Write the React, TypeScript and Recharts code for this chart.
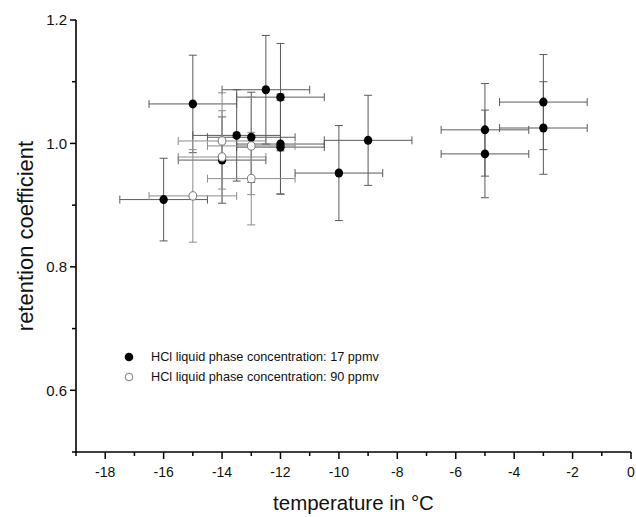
import React from "react";
import { ScatterChart, Scatter, XAxis, YAxis, ErrorBar, Label, Legend } from "recharts";

// HCl liquid phase concentration 17 ppmv (filled)
const lowTemp = [-16, -15, -14, -13.5, -13, -12.5, -12, -12, -12, -10, -9, -5, -5, -3, -3];
const lowCoef = [0.909, 1.064, 0.973, 1.013, 1.01, 1.087, 1.075, 0.999, 0.994, 0.952, 1.005, 1.022, 0.983, 1.067, 1.025];
const lowCoefErr = [0.067, 0.079, 0.07, 0.074, 0.073, 0.088, 0.087, 0.081, 0.076, 0.077, 0.073, 0.075, 0.071, 0.077, 0.075];
const lowTempErr = [1.5, 1.5, 1.5, 1.5, 1.5, 1.5, 1.5, 1.5, 1.5, 1.5, 1.5, 1.5, 1.5, 1.5, 1.5];

// HCl liquid phase concentration 90 ppmv (open)
const highTemp = [-15, -14, -14, -13, -13];
const highCoef = [0.915, 1.004, 0.978, 0.996, 0.943];
const highCoefErr = [0.075, 0.078, 0.075, 0.079, 0.075];
const highTempErr = [1.5, 1.5, 1.5, 1.5, 1.5];

const xTicks = [-19, -18, -17, -16, -15, -14, -13, -12, -11, -10, -9, -8, -7, -6, -5, -4, -3, -2, -1, 0];
const xLabeled = [-18, -16, -14, -12, -10, -8, -6, -4, -2, 0];
const yTicks = [0.5, 0.6, 0.7, 0.8, 0.9, 1.0, 1.1, 1.2];
const yLabeled = [0.6, 0.8, 1.0, 1.2];

const seriesNames = [
  "HCl liquid phase concentration: 17 ppmv",
  "HCl liquid phase concentration: 90 ppmv",
];

const FONT = "'Liberation Sans', Arial, sans-serif";

const lowData = lowTemp.map((x, i) => ({ x, y: lowCoef[i], errX: lowTempErr[i], errY: lowCoefErr[i] }));
const highData = highTemp.map((x, i) => ({ x, y: highCoef[i], errX: highTempErr[i], errY: highCoefErr[i] }));

const XTick = (props: any) => {
  const { x, y, payload } = props;
  const major = xLabeled.includes(payload.value);
  return (
    <g>
      <line x1={x} x2={x} y1={y} y2={y + (major ? 7 : 4)} stroke="#000" strokeWidth={1.5} />
      {major && (
        <text x={x} y={y + 25} textAnchor="middle" fontSize={14} fontFamily={FONT} fill="#111">
          {payload.value}
        </text>
      )}
    </g>
  );
};

const YTick = (props: any) => {
  const { x, y, payload } = props;
  const major = yLabeled.some((v) => Math.abs(v - payload.value) < 1e-6);
  return (
    <g>
      <line x1={x - (major ? 6 : 4)} x2={x} y1={y} y2={y} stroke="#000" strokeWidth={1.5} />
      {major && (
        <text x={x - 9} y={y + 5.3} textAnchor="end" fontSize={15} fontFamily={FONT} fill="#111">
          {payload.value.toFixed(1)}
        </text>
      )}
    </g>
  );
};

const FilledDot = (p: any) => <ellipse cx={p.cx} cy={p.cy} rx={4.2} ry={4.5} fill="#000" />;
const OpenDot = (p: any) => (
  <ellipse cx={p.cx} cy={p.cy} rx={3.8} ry={4.2} fill="#fff" stroke="#777" strokeWidth={1} />
);

const LegendBox = () => (
  <div style={{ fontFamily: FONT, fontSize: 12.7, color: "#111" }}>
    {seriesNames.map((name, i) => (
      <div key={name} style={{ display: "flex", alignItems: "center", height: 20 }}>
        <svg width={12} height={12} style={{ marginRight: 16 }}>
          {i === 0 ? (
            <circle cx={6} cy={6} r={4.3} fill="#000" />
          ) : (
            <circle cx={6} cy={6} r={3.8} fill="#fff" stroke="#777" />
          )}
        </svg>
        <span>{name}</span>
      </div>
    ))}
  </div>
);

export default function App() {
  return (
    <div style={{ position: "absolute", left: 0, top: 0, width: 636, height: 517, background: "#fff" }}>
      <ScatterChart width={636} height={517} margin={{ top: 20, right: 5, bottom: 0, left: 0 }}>
        <XAxis
          type="number"
          dataKey="x"
          domain={[-19, 0]}
          allowDataOverflow
          ticks={xTicks}
          interval={0}
          tick={<XTick />}
          tickLine={false}
          tickSize={0}
          tickMargin={0}
          height={65}
          axisLine={{ stroke: "#000", strokeWidth: 1.6 }}
        >
          <Label
            value="temperature in °C"
            position="insideBottom"
            offset={7}
            style={{ fontFamily: FONT, fontSize: 20.5, fill: "#111" }}
          />
        </XAxis>
        <YAxis
          type="number"
          dataKey="y"
          domain={[0.5, 1.2]}
          allowDataOverflow
          ticks={yTicks}
          interval={0}
          tick={<YTick />}
          tickLine={false}
          tickSize={0}
          tickMargin={0}
          width={76}
          axisLine={{ stroke: "#000", strokeWidth: 1.6 }}
        >
          <Label
            value="retention coefficient"
            angle={-90}
            position="insideLeft"
            offset={25}
            style={{ fontFamily: FONT, fontSize: 22, fill: "#111", textAnchor: "middle" }}
          />
        </YAxis>
        <Legend
          layout="vertical"
          align="center"
          verticalAlign="middle"
          wrapperStyle={{ left: 123, top: 347, width: 320 }}
          content={<LegendBox />}
        />
        <Scatter name={seriesNames[0]} data={lowData} shape={<FilledDot />} isAnimationActive={false}>
          <ErrorBar dataKey="errX" direction="x" width={4} stroke="#5a5a5a" strokeWidth={1} />
          <ErrorBar dataKey="errY" direction="y" width={4} stroke="#5a5a5a" strokeWidth={1} />
        </Scatter>
        <Scatter name={seriesNames[1]} data={highData} shape={<OpenDot />} isAnimationActive={false}>
          <ErrorBar dataKey="errX" direction="x" width={4} stroke="#8c8c8c" strokeWidth={1} />
          <ErrorBar dataKey="errY" direction="y" width={4} stroke="#8c8c8c" strokeWidth={1} />
        </Scatter>
      </ScatterChart>
    </div>
  );
}
